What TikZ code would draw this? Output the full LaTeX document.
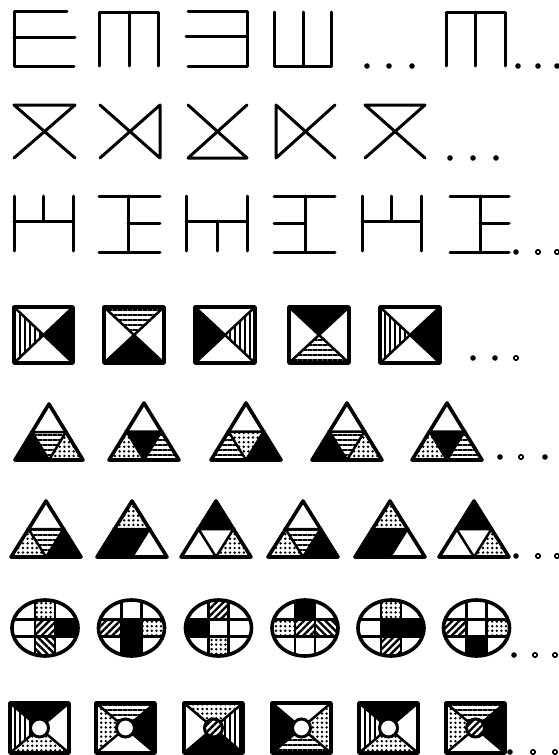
\documentclass[tikz,border=0pt]{standalone}
\usetikzlibrary{patterns.meta}
\tikzset{
 ln/.style={line width=3pt, line cap=round, line join=round},
 ol/.style={line width=3.6pt, line join=round},
 il/.style={line width=2.5pt, line cap=round},
 wht/.style={fill=white},
 blk/.style={fill=black},
 hst/.style={pattern={Lines[angle=0,distance=5pt,line width=2.4pt]}},
 vst/.style={pattern={Lines[angle=90,distance=5pt,line width=2.4pt]}},
 fst/.style={pattern={Lines[angle=45,distance=5pt,line width=2.4pt]}},
 bst/.style={pattern={Lines[angle=-45,distance=5pt,line width=2.4pt]}},
 dts/.style={pattern={Dots[distance=4.6pt,radius=1.35pt]}},
}
\newcommand\SqFig[8]{%
\begin{scope}[shift={(#1,#2)}]
 \path[#5] (0,0) -- (#3,0) -- ({#3/2},{#4/2}) -- cycle;
 \path[#6] (#3,0) -- (#3,#4) -- ({#3/2},{#4/2}) -- cycle;
 \path[#7] (0,#4) -- (#3,#4) -- ({#3/2},{#4/2}) -- cycle;
 \path[#8] (0,0) -- (0,#4) -- ({#3/2},{#4/2}) -- cycle;
 \draw[il] (0,0) -- (#3,#4) (#3,0) -- (0,#4);
 \draw[ol] (0,0) rectangle (#3,#4);
\end{scope}}
\newcommand\CenC[3]{%
 \fill[white] (#1,#2) circle (9);
 \path[#3] (#1,#2) circle (9);
 \draw[line width=3pt] (#1,#2) circle (9);}
\newcommand\TriFig[8]{%
\begin{scope}[shift={(#1,#2)}]
 \path[#5] ({#3/2},-#4) -- ({#3/4},{-#4/2}) -- ({3*#3/4},{-#4/2}) -- cycle;
 \path[#6] (0,0) -- ({#3/2},0) -- ({#3/4},{-#4/2}) -- cycle;
 \path[#7] ({#3/4},{-#4/2}) -- ({3*#3/4},{-#4/2}) -- ({#3/2},0) -- cycle;
 \path[#8] ({#3/2},0) -- (#3,0) -- ({3*#3/4},{-#4/2}) -- cycle;
 \draw[il] ({#3/4},{-#4/2}) -- ({3*#3/4},{-#4/2}) -- ({#3/2},0) -- cycle;
 \draw[ol] (0,0) -- (#3,0) -- ({#3/2},-#4) -- cycle;
\end{scope}}
\newcommand\Cell[3]{%
 \ifcase#1 \def\cXa{-45}\def\cXb{-10}\or \def\cXa{-10}\def\cXb{10}\or \def\cXa{10}\def\cXb{45}\fi
 \ifcase#2 \def\cYa{-40}\def\cYb{-8.5}\or \def\cYa{-8.5}\def\cYb{8.5}\or \def\cYa{8.5}\def\cYb{40}\fi
 \path[#3] (\cXa,\cYa) rectangle (\cXb,\cYb);}
\newcommand\CircStart[2]{\begin{scope}[shift={(#1,#2)}]\begin{scope}\clip (0,0) ellipse [x radius=33, y radius=28];}
\newcommand\CircEnd{\draw[il] (-10,-40) -- (-10,40) (10,-40) -- (10,40) (-40,-8.5) -- (40,-8.5) (-40,8.5) -- (40,8.5);\end{scope}\draw[ol] (0,0) ellipse [x radius=33, y radius=28];\end{scope}}
\newcommand\Dt[2]{\fill (#1,#2) circle (2.8);}
\newcommand\Rg[2]{\draw[line width=1.6pt] (#1,#2) circle (2.2);}
\begin{document}
\begin{tikzpicture}[x=1pt,y=-1pt]
\useasboundingbox[fill=white] (0,0) rectangle (559,755);
% Row 1
\draw[ln] (67,11) -- (14,11) -- (14,66) -- (74,66) (14,37) -- (75,37);
\draw[ln] (99,66) -- (99,12) -- (158,12) -- (158,66) (129,12) -- (129,66);
\draw[ln] (188,11) -- (247,11) -- (247,66) -- (188,66) (186,36) -- (247,36);
\draw[ln] (274,12) -- (274,66) -- (331,66) -- (331,12) (303,12) -- (303,66);
\draw[ln] (446,66) -- (446,12) -- (505,12) -- (505,66) (475,12) -- (475,66);
\Dt{367}{66}\Dt{389}{66}\Dt{412}{66}
\Dt{518}{66}\Dt{538}{66}\Dt{557}{66}
% Row 2
\draw[ln] (14,158) -- (75,105) -- (14,105) -- (75,158);
\draw[ln] (100,105) -- (160,158) -- (160,105) -- (100,158);
\draw[ln] (188,105) -- (247,158) -- (188,158) -- (247,105);
\draw[ln] (335,105) -- (276,158) -- (276,105) -- (335,158);
\draw[ln] (365,158) -- (425,105) -- (365,105) -- (425,158);
\Dt{450}{158}\Dt{473}{158}\Dt{496}{158}
% Row 3
\draw[ln] (14,196) -- (14,251) (73,196) -- (73,251) (14,221) -- (73,221) (43,196) -- (43,221);
\draw[ln] (99,196) -- (160,196) (99,252) -- (160,252) (128,196) -- (128,252) (128,223) -- (160,223);
\draw[ln] (186,196) -- (186,251) (247,196) -- (247,251) (186,221) -- (247,221) (217,221) -- (217,251);
\draw[ln] (274,196) -- (335,196) (274,252) -- (335,252) (305,196) -- (305,252) (274,223) -- (305,223);
\draw[ln] (362,196) -- (362,251) (421,196) -- (421,251) (362,221) -- (421,221) (391,196) -- (391,221);
\draw[ln] (450,196) -- (509,196) (450,252) -- (509,252) (480,196) -- (480,252) (480,223) -- (509,223);
\Dt{516}{252}\Rg{538}{252}\Rg{557}{252}
% Row 4
\SqFig{14}{307}{59}{56}{wht}{blk}{wht}{vst}
\SqFig{104}{307}{60}{56}{hst}{wht}{blk}{wht}
\SqFig{195}{307}{60}{56}{wht}{vst}{wht}{blk}
\SqFig{289}{307}{60}{56}{blk}{wht}{hst}{wht}
\SqFig{380}{307}{60}{56}{wht}{blk}{wht}{vst}
\Dt{473}{358}\Dt{495}{358}\Rg{516}{358}
% Row 5
\TriFig{15}{460}{68}{56}{wht}{blk}{hst}{dts}
\TriFig{109}{460}{70}{57}{wht}{dts}{blk}{hst}
\TriFig{211}{460}{70}{57}{wht}{hst}{dts}{blk}
\TriFig{312}{460}{70}{57}{wht}{blk}{hst}{dts}
\TriFig{412}{460}{70}{57}{wht}{dts}{blk}{hst}
\Dt{500}{457}\Rg{521}{457}\Dt{545}{457}
% Row 6
\TriFig{11}{557}{70}{56}{wht}{dts}{hst}{blk}
\TriFig{97}{557}{70}{56}{dts}{blk}{blk}{wht}
\TriFig{181}{557}{70}{56}{blk}{wht}{wht}{dts}
\TriFig{268}{557}{70}{56}{wht}{dts}{hst}{blk}
\TriFig{355}{557}{70}{56}{dts}{blk}{blk}{wht}
\TriFig{439}{557}{70}{56}{blk}{wht}{wht}{dts}
\Dt{516}{556}\Rg{538}{556}\Rg{557}{556}
% Row 7
\CircStart{45}{628}\Cell{1}{0}{dts}\Cell{1}{1}{fst}\Cell{2}{1}{blk}\Cell{1}{2}{bst}\CircEnd
\CircStart{131.5}{628}\Cell{0}{1}{fst}\Cell{1}{1}{blk}\Cell{2}{1}{dts}\Cell{1}{2}{blk}\CircEnd
\CircStart{218.5}{628}\Cell{1}{0}{fst}\Cell{0}{1}{blk}\Cell{1}{2}{dts}\CircEnd
\CircStart{305}{628}\Cell{1}{0}{blk}\Cell{0}{1}{dts}\Cell{1}{1}{fst}\Cell{2}{1}{bst}\CircEnd
\CircStart{391}{628}\Cell{1}{0}{dts}\Cell{1}{1}{blk}\Cell{2}{1}{blk}\Cell{1}{2}{fst}\CircEnd
\CircStart{476.5}{628}\Cell{0}{1}{fst}\Cell{2}{1}{dts}\Cell{1}{2}{blk}\CircEnd
\Dt{514}{655}\Rg{535}{655}\Rg{555}{655}
% Row 8
\SqFig{10}{703}{59}{50}{blk}{wht}{dts}{vst}\CenC{39.5}{728}{wht}
\SqFig{96}{703}{59}{50}{hst}{blk}{wht}{dts}\CenC{125.5}{728}{wht}
\SqFig{184}{703}{59}{50}{dts}{vst}{blk}{wht}\CenC{213.5}{728}{fst}
\SqFig{272}{703}{59}{50}{wht}{dts}{hst}{blk}\CenC{301.5}{728}{wht}
\SqFig{359}{703}{59}{50}{blk}{wht}{dts}{vst}\CenC{388.5}{728}{wht}
\SqFig{446}{703}{59}{50}{hst}{blk}{wht}{dts}\CenC{475.5}{728}{fst}
\Dt{510}{752}\Rg{533}{752}\Rg{555}{752}
\end{tikzpicture}
\end{document}
